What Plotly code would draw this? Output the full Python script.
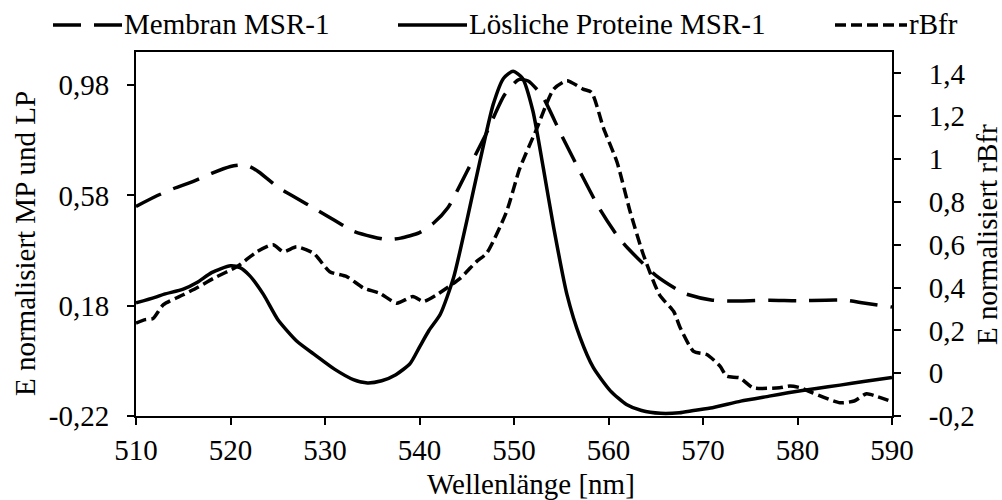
import plotly.graph_objects as go

# ---------------- data ----------------
mp_x = [510, 512, 514, 516, 518, 520, 521, 522, 523, 525, 527, 529, 531, 533, 535,
        536.5, 538, 540, 541.5, 543, 545, 547, 549, 550.5, 551.5, 553, 555, 557,
        559, 561, 562, 565, 568, 571, 574, 577, 580, 583, 585, 587, 590]
mp_y = [0.54, 0.575, 0.605, 0.63, 0.66, 0.685, 0.69, 0.685, 0.665, 0.61, 0.57,
        0.53, 0.49, 0.45, 0.43, 0.42, 0.425, 0.445, 0.48, 0.535, 0.665, 0.80,
        0.945, 1.0, 0.995, 0.94, 0.80, 0.665, 0.535, 0.43, 0.39, 0.29, 0.225,
        0.2, 0.197, 0.2, 0.198, 0.2, 0.2, 0.19, 0.175]

lp_x = [510, 512, 513, 515, 516.5, 518, 520, 521, 522, 523.5, 525, 527, 529, 531,
        533, 534.5, 536, 537.5, 539, 540, 541, 542.2, 543.6, 545, 546.4, 547.8,
        548.9, 549.9, 550.9, 552, 553.1, 554.2, 555.6, 557, 558.4, 560.2, 561.9,
        563.5, 565.5, 567.5, 569, 571, 574, 577, 579, 582, 584.5, 587, 590]
lp_y = [0.19, 0.21, 0.222, 0.24, 0.265, 0.30, 0.325, 0.318, 0.29, 0.22, 0.13,
        0.052, 0.0, -0.05, -0.088, -0.1, -0.092, -0.07, -0.03, 0.03, 0.09, 0.149,
        0.281, 0.487, 0.705, 0.91, 1.005, 1.03, 1.005, 0.886, 0.68, 0.463, 0.221,
        0.064, -0.045, -0.129, -0.178, -0.2, -0.21, -0.208, -0.2, -0.19, -0.166,
        -0.148, -0.136, -0.12, -0.108, -0.095, -0.08]

rb_x = [510, 511, 511.8, 512.9, 515, 516.5, 518.2, 520.7, 522.8, 524.5, 525.6,
        527, 528.8, 530.5, 532.3, 534.1, 535.8, 537.6, 539.3, 540.4, 541.8, 544.3,
        546, 547.1, 549.2, 550.6, 552.4, 554.2, 555.6, 557.3, 558.2, 559.5, 560.9,
        562.3, 563.7, 565.4, 566.9, 567.6, 569, 570.4, 571.8, 572.5, 573.9, 575.3,
        578.1, 579.2, 580.3, 581.6, 584.5, 586, 587.3, 588.5, 589.8]
rb_y = [0.234, 0.25, 0.255, 0.32, 0.366, 0.40, 0.443, 0.498, 0.567, 0.60, 0.567,
        0.59, 0.56, 0.474, 0.451, 0.397, 0.373, 0.327, 0.358, 0.335, 0.366, 0.443,
        0.52, 0.56, 0.753, 0.955, 1.141, 1.327, 1.366, 1.327, 1.312, 1.141, 0.986,
        0.753, 0.552, 0.366, 0.288, 0.211, 0.102, 0.087, 0.033, -0.014, -0.022,
        -0.068, -0.068, -0.06, -0.068, -0.092, -0.138, -0.13, -0.096, -0.11, -0.13]

series_names = ["Membran MSR-1", "Lösliche Proteine MSR-1", "rBfr"]

x_ticks = [510, 520, 530, 540, 550, 560, 570, 580, 590]
y_left_ticks = [-0.22, 0.18, 0.58, 0.98]
y_left_text = ["-0,22", "0,18", "0,58", "0,98"]
y_right_ticks = [-0.2, 0, 0.2, 0.4, 0.6, 0.8, 1.0, 1.2, 1.4]
y_right_text = ["-0,2", "0", "0,2", "0,4", "0,6", "0,8", "1", "1,2", "1,4"]

# ---------------- styling ----------------
FONT = "Liberation Serif, Times New Roman, serif"
FS = 29
W, H = 1002, 500
L, R, T, B = 136, 110, 52, 84
PW, PH = W - L - R, H - T - B

DASH_MP = "28px,13px"
DASH_RB = "11px,5px"
LW = 3.5


def px2x(px):
    return (px - L) / PW


def py2y(py):
    return (H - B - py) / PH


fig = go.Figure()
fig.add_trace(go.Scatter(x=mp_x, y=mp_y, mode="lines", name=series_names[0],
                         line=dict(color="black", width=LW, dash=DASH_MP,
                                   shape="spline", smoothing=0.6),
                         showlegend=False))
fig.add_trace(go.Scatter(x=lp_x, y=lp_y, mode="lines", name=series_names[1],
                         line=dict(color="black", width=LW, shape="spline", smoothing=0.6),
                         showlegend=False))
fig.add_trace(go.Scatter(x=rb_x, y=rb_y, mode="lines", name=series_names[2], yaxis="y2",
                         line=dict(color="black", width=LW, dash=DASH_RB,
                                   shape="spline", smoothing=0.6),
                         showlegend=False))

# ---------------- manual legend ----------------
legend_items = [
    (53, 122, DASH_MP),
    (398, 467, "solid"),
    (835, 907, DASH_RB),
]
shapes = []
annotations = []
ly = py2y(25)
for (x0, x1, dash), name in zip(legend_items, series_names):
    shapes.append(dict(type="line", xref="paper", yref="paper",
                       x0=px2x(x0), x1=px2x(x1), y0=ly, y1=ly,
                       line=dict(color="black", width=LW, dash=dash)))
    annotations.append(dict(xref="paper", yref="paper", x=px2x(x1), y=py2y(24),
                            xanchor="left", yanchor="middle", showarrow=False,
                            text=name, font=dict(family=FONT, size=FS, color="black")))

# axis titles
annotations.append(dict(xref="paper", yref="paper", x=px2x(531), y=py2y(484),
                        xanchor="center", yanchor="middle", showarrow=False,
                        text="Wellenlänge [nm]", font=dict(family=FONT, size=FS, color="black")))
annotations.append(dict(xref="paper", yref="paper", x=px2x(25), y=py2y(244),
                        xanchor="center", yanchor="middle", showarrow=False, textangle=-90,
                        text="E normalisiert MP und LP",
                        font=dict(family=FONT, size=FS, color="black")))
annotations.append(dict(xref="paper", yref="paper", x=px2x(987), y=py2y(234),
                        xanchor="center", yanchor="middle", showarrow=False, textangle=-90,
                        text="E normalisiert rBfr",
                        font=dict(family=FONT, size=FS, color="black")))

axis_font = dict(family=FONT, size=FS, color="black")

fig.update_layout(
    width=W, height=H,
    margin=dict(l=L, r=R, t=T, b=B, pad=0),
    paper_bgcolor="white", plot_bgcolor="white",
    font=axis_font,
    shapes=shapes, annotations=annotations,
    xaxis=dict(range=[510, 590], tickvals=x_ticks, ticktext=[str(v) for v in x_ticks],
               showgrid=False, zeroline=False, showline=True, linecolor="black",
               linewidth=2, mirror=True, ticks="outside", ticklen=7, tickwidth=2,
               tickcolor="black", tickfont=axis_font, ticklabelstandoff=0),
    yaxis=dict(range=[-0.22, 1.1], tickvals=y_left_ticks, ticktext=y_left_text,
               showgrid=False, zeroline=False, showline=True, linecolor="black",
               linewidth=2, ticks="outside", ticklen=7, tickwidth=2, tickcolor="black",
               tickfont=axis_font, ticklabelstandoff=12),
    yaxis2=dict(range=[-0.2, 1.5], tickvals=y_right_ticks, ticktext=y_right_text,
                overlaying="y", side="right", anchor="x",
                showgrid=False, zeroline=False, showline=True, linecolor="black",
                linewidth=2, ticks="outside", ticklen=7, tickwidth=2, tickcolor="black",
                tickfont=axis_font, ticklabelstandoff=22),
)

fig.write_html("out.html")
